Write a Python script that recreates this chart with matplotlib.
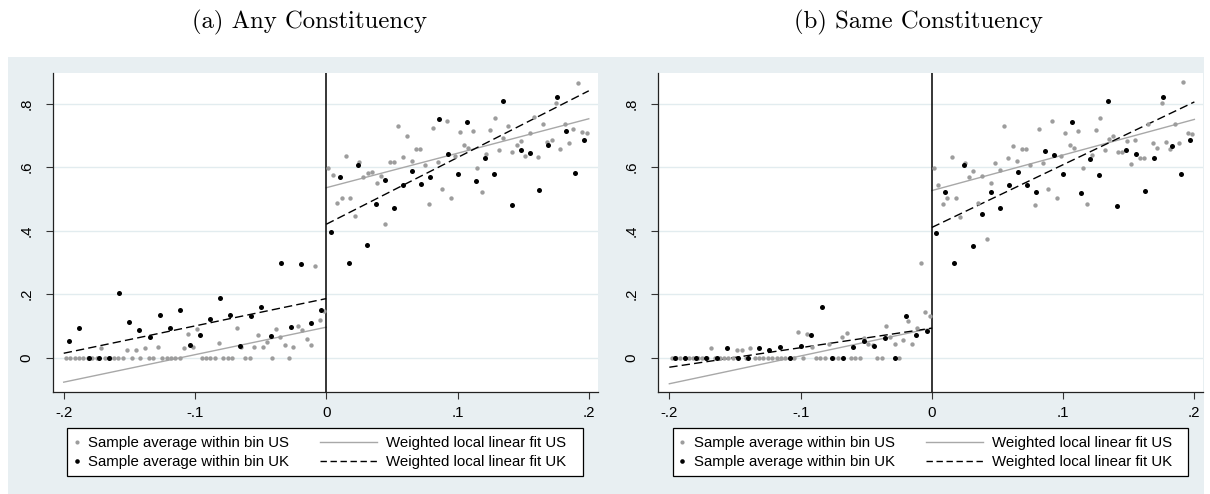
import numpy as np
import matplotlib
matplotlib.use("Agg")
import matplotlib.pyplot as plt
from matplotlib.lines import Line2D
from matplotlib.patches import Rectangle

plt.rcParams["font.family"] = ["Liberation Sans", "DejaVu Sans"]

# panel titles
titles = ["(a) Any Constituency", "(b) Same Constituency"]

# binned sample averages (US: 60 bins per side, UK: bins chosen per side)
any_us_left = [0, 0, 0, 0, 0, 0, 0, 0, 0.03, 0, 0, 0, 0, 0, 0.025, 0, 0.025, 0, 0.03, 0,
               0, 0.035, 0, 0, 0, 0, 0, 0.03, 0.075, 0.035, 0.09, 0, 0, 0, 0, 0.045, 0, 0, 0, 0.093,
               0.035, 0, 0, 0.035, 0.07, 0.035, 0.05, 0, 0.09, 0.065, 0.04, 0, 0.035, 0.10, 0.087, 0.06,
               0.039, 0.288, 0.118, 0.146]
any_us_right = [0.598, 0.574, 0.486, 0.504, 0.634, 0.504, 0.447, 0.615, 0.568, 0.58, 0.584, 0.55,
                0.572, 0.420, 0.615, 0.617, 0.729, 0.631, 0.699, 0.62, 0.658, 0.658, 0.607, 0.483,
                0.722, 0.615, 0.530, 0.746, 0.504, 0.635, 0.709, 0.669, 0.66, 0.715, 0.598, 0.520,
                0.640, 0.718, 0.753, 0.654, 0.690, 0.729, 0.647, 0.669, 0.683, 0.634, 0.706, 0.758,
                0.631, 0.735, 0.678, 0.685, 0.803, 0.657, 0.735, 0.675, 0.72, 0.866, 0.709, 0.706]
any_uk_left = [0.052, 0.093, 0, 0, 0, 0.204, 0.112, 0.086, 0.066, 0.133, 0.093, 0.151, 0.040,
               0.072, 0.122, 0.187, 0.134, 0.036, 0.130, 0.160, 0.069, 0.298, 0.096, 0.294, 0.110, 0.150]
any_uk_right = [0.395, 0.568, 0.298, 0.607, 0.356, 0.483, 0.559, 0.470, 0.543, 0.589, 0.547, 0.568,
                0.752, 0.641, 0.577, 0.742, 0.557, 0.628, 0.577, 0.808, 0.480, 0.655, 0.643, 0.527,
                0.668, 0.819, 0.715, 0.580, 0.685]

same_us_left = [0, 0, 0, 0, 0, 0, 0, 0, 0, 0.032, 0, 0, 0, 0, 0, 0.024, 0.024, 0, 0.032, 0,
                0, 0, 0, 0, 0, 0, 0, 0, 0, 0.082, 0, 0.074, 0.034, 0, 0, 0, 0.044, 0, 0, 0.065,
                0.078, 0, 0, 0, 0.061, 0.042, 0.04, 0, 0, 0.101, 0.065, 0.042, 0, 0.055, 0.114, 0.044,
                0.093, 0.298, 0.145, 0.131]
same_us_right = [0.597, 0.545, 0.484, 0.502, 0.633, 0.502, 0.444, 0.613, 0.568, 0.587, 0.487, 0.571,
                 0.375, 0.55, 0.613, 0.592, 0.729, 0.629, 0.666, 0.62, 0.657, 0.657, 0.605, 0.481,
                 0.721, 0.614, 0.532, 0.745, 0.502, 0.634, 0.708, 0.668, 0.66, 0.714, 0.597, 0.484,
                 0.639, 0.718, 0.753, 0.655, 0.689, 0.697, 0.646, 0.646, 0.682, 0.611, 0.684, 0.629,
                 0.629, 0.737, 0.677, 0.660, 0.803, 0.68, 0.656, 0.734, 0.677, 0.869, 0.708, 0.705]
same_uk_left = [0, 0, 0, 0, 0, 0.032, 0, 0, 0.032, 0.024, 0.035, 0, 0.038, 0.072, 0.159, 0, 0,
                0.035, 0.053, 0.038, 0.061, 0, 0.132, 0.072, 0.084]
same_uk_right = [0.393, 0.521, 0.298, 0.605, 0.353, 0.451, 0.521, 0.471, 0.542, 0.586, 0.545, 0.521,
                 0.649, 0.639, 0.579, 0.742, 0.518, 0.626, 0.576, 0.808, 0.478, 0.653, 0.642, 0.525,
                 0.629, 0.819, 0.666, 0.579, 0.684]

# local linear fits: values at (-.2, 0) on the left and (0, .2) on the right
any_fit_us = [(-0.077, 0.096), (0.535, 0.752)]
any_fit_uk = [(0.014, 0.186), (0.420, 0.840)]
same_fit_us = [(-0.082, 0.093), (0.526, 0.750)]
same_fit_uk = [(-0.030, 0.093), (0.410, 0.805)]

xticks = [-0.2, -0.1, 0, 0.1, 0.2]
xticklabels = ["-.2", "-.1", "0", ".1", ".2"]
yticks = [0, 0.2, 0.4, 0.6, 0.8]
yticklabels = ["0", ".2", ".4", ".6", ".8"]

panels = [
    (any_us_left, any_us_right, any_uk_left, any_uk_right, any_fit_us, any_fit_uk),
    (same_us_left, same_us_right, same_uk_left, same_uk_right, same_fit_us, same_fit_uk),
]

GRAY = "#9d9d9d"
BG = "#e8eff2"


def centers(vals, side):
    n = len(vals)
    w = 0.2 / n
    c = (np.arange(n) + 0.5) * w
    return c - 0.2 if side == "left" else c


W, H = 1210, 494
fig = plt.figure(figsize=(W / 100, H / 100), dpi=100)
fig.patches.append(Rectangle((8 / W, 0), (1204 - 8) / W, 437 / H, transform=fig.transFigure,
                             facecolor=BG, edgecolor="none", zorder=-1))

ax_left = [52.7, 658.3]
for k, (usl, usr, ukl, ukr, fus, fuk) in enumerate(panels):
    ax = fig.add_axes([ax_left[k] / W, 1 - 391.7 / H, 545 / W, 319 / H])
    ax.set_facecolor("white")
    ax.set_xlim(-0.2084, 0.2068)
    ax.set_ylim(-0.107, 0.897)

    ax.plot([-0.2, 0], fus[0], color="#a8a8a8", lw=1.0, zorder=2)
    ax.plot([0, 0.2], fus[1], color="#a8a8a8", lw=1.0, zorder=2)
    ax.plot([-0.2, 0], fuk[0], color="black", lw=1.0, dashes=(6, 3), zorder=3)
    ax.plot([0, 0.2], fuk[1], color="black", lw=1.0, dashes=(6, 3), zorder=3)

    ax.scatter(centers(usl, "left"), usl, s=10, color=GRAY, lw=0, zorder=4)
    ax.scatter(centers(usr, "right"), usr, s=10, color=GRAY, lw=0, zorder=4)
    ax.scatter(centers(ukl, "left"), ukl, s=13, color="black", lw=0, zorder=5)
    ax.scatter(centers(ukr, "right"), ukr, s=13, color="black", lw=0, zorder=5)

    ax.axvline(0, color="black", lw=1.1, zorder=3)

    ax.set_xticks(xticks)
    ax.set_xticklabels(xticklabels)
    ax.set_yticks(yticks)
    ax.set_yticklabels(yticklabels, rotation=90, va="center")
    ax.tick_params(length=5, width=0.8, labelsize=10.8, color="#333333")
    ax.tick_params(axis="x", pad=5)
    ax.tick_params(axis="y", pad=9)
    ax.yaxis.grid(True, color="#e2ecef", lw=1.0)
    ax.set_axisbelow(True)
    for s in ["top", "right"]:
        ax.spines[s].set_visible(False)
    for s in ["left", "bottom"]:
        ax.spines[s].set_color("#222222")
        ax.spines[s].set_linewidth(0.9)

    # title
    cx = [310, 918][k]
    fig.text(cx / W, 1 - 22 / H, titles[k], family="cmr10", fontsize=17.8, ha="center", va="center")

    # legend box
    bx0 = ax_left[k] + 14.6
    bx1 = bx0 + 515.4
    fig.add_artist(Rectangle((bx0 / W, 1 - 476 / H), (bx1 - bx0) / W, 48 / H,
                             transform=fig.transFigure, facecolor="white", edgecolor="black",
                             lw=0.9, zorder=1))
    mk = [Line2D([], [], marker="o", ls="none", ms=3, mec="none", mfc=GRAY),
          Line2D([], [], marker="o", ls="none", ms=3.3, mec="none", mfc="black")]
    ln = [Line2D([], [], color="#a8a8a8", lw=1.0),
          Line2D([], [], color="black", lw=1.0, dashes=(4.6, 2.6))]
    leg1 = fig.legend(mk, ["Sample average within bin US", "Sample average within bin UK"],
                      loc="center left", bbox_to_anchor=((bx0 + 4.9) / W, 1 - 452.5 / H),
                      frameon=False, fontsize=10.8, handlelength=0.6, handletextpad=0.48,
                      borderpad=0, borderaxespad=0, labelspacing=0.32)
    leg2 = fig.legend(ln, ["Weighted local linear fit US", "Weighted local linear fit UK"],
                      loc="center left", bbox_to_anchor=((bx0 + 252.7) / W, 1 - 452.5 / H),
                      frameon=False, fontsize=10.8, handlelength=3.8, handletextpad=0.62,
                      borderpad=0, borderaxespad=0, labelspacing=0.32)
    leg1.set_zorder(6)
    leg2.set_zorder(6)

plt.savefig("out.png", dpi=100)
